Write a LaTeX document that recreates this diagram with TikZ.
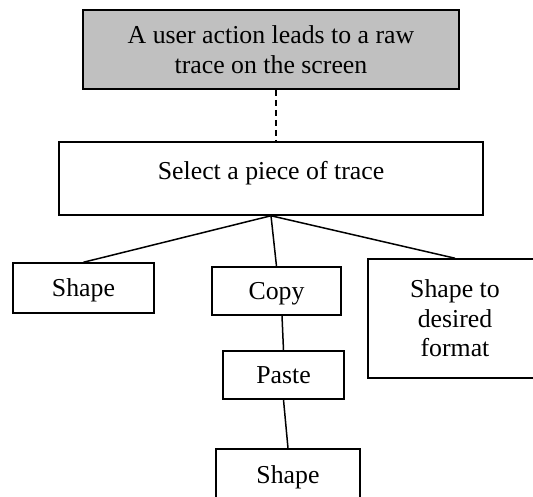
\documentclass[tikz,border=0pt]{standalone}
\usepackage{fontspec}
\setmainfont{Liberation Serif}
\usetikzlibrary{calc}
\begin{document}
\begin{tikzpicture}[x=1pt,y=-1pt,
  every node/.style={font=\fontsize{25.8}{29.5}\selectfont, inner sep=0pt, align=center},
  box/.style={draw, line width=1.5pt, rectangle, text depth=0pt},
  link/.style={line width=1.5pt},
  dashlink/.style={line width=1.5pt, dash pattern=on 6pt off 4pt}]
\useasboundingbox (0,0) rectangle (533,497);
\clip (0,0) rectangle (533,497);
% boxes
\node[box, fill={rgb,255:red,192;green,192;blue,192}, line width=2pt, minimum width=376pt, minimum height=79pt] (top) at (271,49.5) {A user action leads to a raw\\trace on the screen};
\node[box, minimum width=424pt, minimum height=73pt] (sel) at (271,178.5) {};
\node (selt) at (271,173.5) {Select a piece of trace};
\node[box, minimum width=141pt, minimum height=50pt] (shape) at (83.5,288) {Shape};
\node[box, minimum width=129pt, minimum height=48pt] (copy) at (276.5,291) {Copy};
\node[box, minimum width=174pt, minimum height=119pt] (fmt) at (455,318.5) {Shape to\\desired\\format};
\node[box, minimum width=121pt, minimum height=48pt] (paste) at (283.5,375) {Paste};
\node[box, minimum width=144pt, minimum height=60pt] (shape2) at (288,479) {};
\node (shape2t) at (288,477) {Shape};
% connectors
\coordinate (dtop) at ($(top.south)+(5,0)$);
\coordinate (cbot) at ($(copy.south)+(5.5,0)$);
\draw[dashlink] (dtop) -- (dtop |- sel.north);
\draw[link] (sel.south) -- (shape.north);
\draw[link] (sel.south) -- (copy.north);
\draw[link] (sel.south) -- (fmt.north);
\draw[link] (cbot) -- (paste.north);
\draw[link] (paste.south) -- (shape2.north);
\end{tikzpicture}
\end{document}
